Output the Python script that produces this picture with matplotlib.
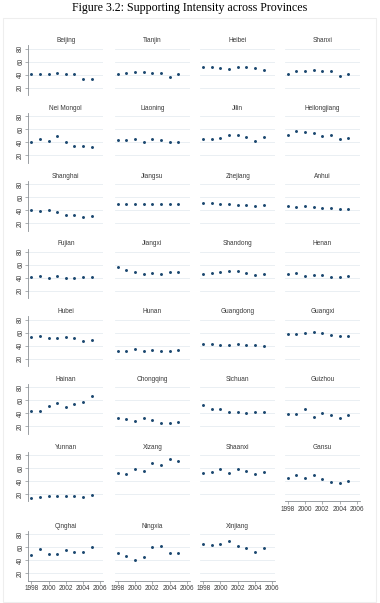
import matplotlib
matplotlib.use("Agg")
import matplotlib.pyplot as plt
from matplotlib.patches import Rectangle

years = [1998, 1999, 2000, 2001, 2002, 2003, 2004, 2005]

provinces = [
    "Beijing", "Tianjin", "Heibei", "Shanxi",
    "Nei Mongol", "Liaoning", "Jilin", "Heilongjiang",
    "Shanghai", "Jiangsu", "Zhejiang", "Anhui",
    "Fujian", "Jiangxi", "Shandong", "Henan",
    "Hubei", "Hunan", "Guangdong", "Guangxi",
    "Hainan", "Chongqing", "Sichuan", "Guizhou",
    "Yunnan", "Xizang", "Shaanxi", "Gansu",
    "Qinghai", "Ningxia", "Xinjiang",
]

intensity = {
    "Beijing": [41, 40.5, 41.5, 43, 40.5, 40.5, 34, 33.5],
    "Tianjin": [40.5, 43, 44.6, 44, 42, 43, 36, 40.5],
    "Heibei": [52.3, 52.3, 49.7, 49.2, 51.3, 51.3, 49.7, 46.7],
    "Shanxi": [41, 45, 45, 46.7, 45, 45, 38.5, 40.5],
    "Nei Mongol": [41, 45.6, 41.5, 50, 41, 34, 34, 33],
    "Liaoning": [43, 43, 45, 40.5, 45.6, 44, 41, 41],
    "Jilin": [45.6, 45.6, 46.6, 51.7, 50.7, 47.7, 41.5, 48.2],
    "Heilongjiang": [52, 57.9, 55.3, 53.8, 49.2, 50.7, 45.6, 46.6],
    "Shanghai": [39.5, 38, 39.5, 36.5, 33, 32.5, 30, 31],
    "Jiangsu": [49, 49, 49, 50, 49.5, 49, 50, 50],
    "Zhejiang": [51.5, 51.5, 50, 49.5, 48, 48.5, 46.5, 47.5],
    "Anhui": [46, 45, 46, 45, 42.5, 42.5, 41, 42],
    "Fujian": [41.5, 42.5, 40, 42.5, 40, 40, 41.5, 41.5],
    "Jiangxi": [57.3, 52.4, 49, 46, 48, 45.5, 49, 49],
    "Shandong": [46, 47.5, 49, 50, 50, 48, 45, 46.5],
    "Henan": [46.5, 47, 43, 45, 44, 42, 41, 43.5],
    "Hubei": [53, 54.5, 52, 52, 53.5, 51, 47.4, 48.4],
    "Hunan": [31.6, 31, 35.2, 32.1, 33.1, 32.1, 32.1, 33.1],
    "Guangdong": [42.8, 42.3, 41.3, 40.3, 41.8, 40.3, 40.8, 39.2],
    "Guangxi": [57.5, 58, 59.5, 60.5, 60, 56.5, 54.5, 54.5],
    "Hainan": [43, 44, 50.5, 56, 50, 53.5, 58, 66],
    "Chongqing": [32.5, 30.5, 28, 32, 30, 24.5, 24.5, 26.5],
    "Sichuan": [52, 46, 46, 41.5, 42, 40, 41.5, 41.5],
    "Guizhou": [38.5, 38.5, 46, 34, 41, 38, 32, 37],
    "Yunnan": [13.2, 14.7, 16.7, 16.2, 16.2, 16.7, 15.7, 18.2],
    "Xizang": [51.6, 50.6, 58.7, 55.2, 66.8, 64.7, 73.3, 70.8],
    "Shaanxi": [52, 54, 58, 52.5, 58, 56, 51, 54],
    "Gansu": [44, 48.6, 44.5, 49, 43.5, 39, 37, 40.5],
    "Qinghai": [47.7, 58, 50.3, 50.3, 55.9, 53.3, 52.8, 60.5],
    "Ningxia": [50.8, 47.2, 40.5, 45.6, 61, 62.6, 50.8, 51.8],
    "Xinjiang": [65.6, 64.1, 64.6, 69.2, 61.5, 59.5, 52.8, 58.5],
}

y_ticks = [20, 40, 60, 80]
x_ticks = [1998, 2000, 2002, 2004, 2006]

W, H = 380, 603
NAVY = "#1a476f"
GRID = "#e6edf1"
AXIS = "#8a8f94"
TEXT = "#3a3a3a"

fig = plt.figure(figsize=(W / 100, H / 100), dpi=100)
fig.patch.set_facecolor("white")

fig.text(0.5, 1 - 8.5 / H, "Figure 3.2: Supporting Intensity across Provinces",
         ha="center", va="center", family="Liberation Serif", fontsize=8.6, color="black")

# faint outer graph border
fig.patches.append(Rectangle((3 / W, 1 / H), 373 / W, (H - 19) / H, transform=fig.transFigure,
                             fill=False, edgecolor="#eeeeee", linewidth=0.8))

col_left = [28.3, 114.8, 200.2, 284.8]
panel_w = 75
ylo, yhi = 8.5, 85
px_per_unit = 0.65
ncols = 4
n = len(provinces)
fs = 4.7

for i, name in enumerate(provinces):
    r, c = divmod(i, ncols)
    y80 = 48.7 + 67.7 * r if r < 7 else 534.3
    top = y80 - (yhi - 80) * px_per_unit
    bottom = y80 + (80 - ylo) * px_per_unit
    ax = fig.add_axes([col_left[c] / W, 1 - bottom / H, panel_w / W, (bottom - top) / H])
    ax.set_facecolor("white")
    ax.scatter(years, intensity[name], s=4.5, color=NAVY, linewidths=0, zorder=3)
    ax.set_xlim(1997.65, 2006.35)
    ax.set_ylim(ylo, yhi)
    for v in y_ticks:
        ax.axhline(v, color=GRID, linewidth=0.6, zorder=1)
    ax.set_title(name, fontsize=fs, color=TEXT, family="Liberation Sans", pad=2.2)

    for s in ax.spines.values():
        s.set_visible(False)

    show_y = c == 0
    show_x = (i + ncols >= n)
    if show_y:
        ax.spines["left"].set_visible(True)
        ax.spines["left"].set_color(AXIS)
        ax.spines["left"].set_linewidth(0.6)
        ax.set_yticks(y_ticks)
        ax.set_yticklabels([str(v) for v in y_ticks], rotation=90, va="center",
                           fontsize=fs, color=TEXT, family="Liberation Sans")
        ax.tick_params(axis="y", length=2, width=0.5, color=AXIS, pad=1)
    else:
        ax.set_yticks([])
    if show_x:
        ax.spines["bottom"].set_visible(True)
        ax.spines["bottom"].set_color(AXIS)
        ax.spines["bottom"].set_linewidth(0.6)
        ax.set_xticks(x_ticks)
        ax.set_xticklabels([str(v) for v in x_ticks], fontsize=fs, color=TEXT,
                           family="Liberation Sans")
        ax.tick_params(axis="x", length=2, width=0.5, color=AXIS, pad=1)
    else:
        ax.set_xticks([])

fig.savefig("out.png", dpi=100)
